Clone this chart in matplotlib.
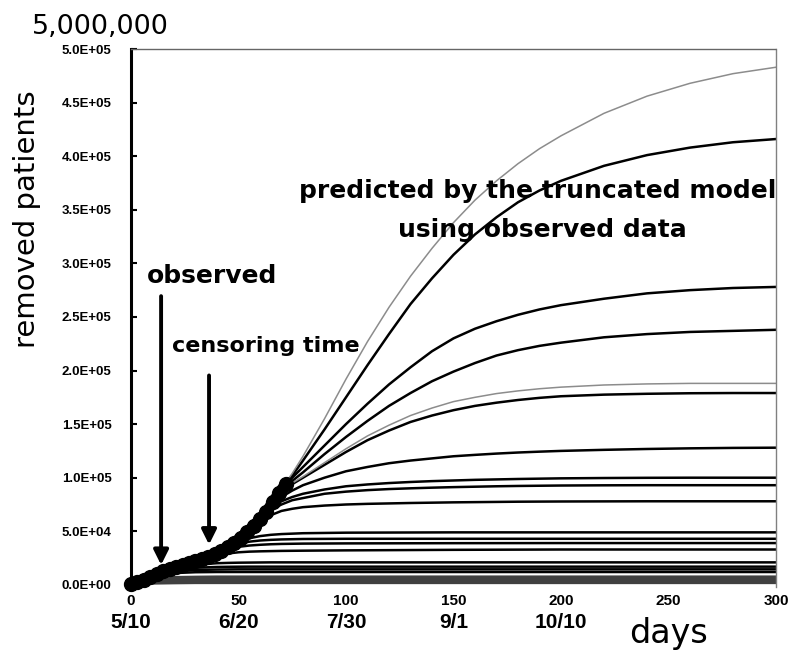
import matplotlib
matplotlib.use("Agg")
import matplotlib.pyplot as plt

# observed removed patients (every 3 days)
obs_days = [0, 3, 6, 9, 12, 15, 18, 21, 24, 27, 30, 33, 36, 39, 42, 45, 48,
            51, 54, 57, 60, 63, 66, 69, 72]
obs_vals = [1000, 3000, 5000, 7500, 10000, 12500, 14500, 16500, 18500, 20500,
            22000, 24000, 26000, 28500, 31500, 35000, 39000, 44000, 49000,
            55000, 61000, 68000, 77000, 86000, 94000]

# predicted curves, large ones
days_grid = [0, 10, 20, 30, 40, 50, 55, 60, 65, 70, 75, 80, 90, 100, 110, 120,
             130, 140, 150, 160, 170, 180, 190, 200, 220, 240, 260, 280, 300]
pred_a = [1000, 8000, 15500, 22000, 29500, 41000, 49500, 61000, 74000, 90000,
          104000, 120000, 155000, 192000, 227000, 259000, 288000, 314000,
          338000, 359000, 377000, 393000, 407000, 419000, 440000, 456000,
          468000, 477000, 483000]
pred_b = [1000, 8000, 15500, 22000, 29500, 41000, 49500, 61000, 73000, 89000,
          102000, 116000, 145000, 175000, 205000, 234000, 262000, 286000,
          308000, 327000, 343000, 357000, 368000, 377000, 391000, 401000,
          408000, 413000, 416000]
pred_c = [1000, 8000, 15500, 22000, 29500, 41000, 49500, 61000, 73000, 89000,
          100000, 110000, 130000, 150000, 169000, 187000, 203000, 218000,
          230000, 239000, 246000, 252000, 257000, 261000, 267000, 272000,
          275000, 277000, 278000]
pred_d = [1000, 8000, 15500, 22000, 29500, 41000, 49500, 61000, 73000, 88000,
          97000, 105000, 122000, 138000, 153000, 167000, 179000, 190000,
          199000, 207000, 214000, 219000, 223000, 226000, 231000, 234000,
          236000, 237000, 238000]
pred_e = [1000, 8000, 15500, 22000, 29500, 41000, 49500, 61000, 73000, 88000,
          94000, 100000, 112000, 124000, 135000, 144000, 152000, 158000,
          163000, 167000, 170000, 172500, 174500, 176000, 177500, 178300,
          178800, 179000, 179000]
pred_e2 = [1000, 8000, 15500, 22000, 29500, 41000, 49500, 61000, 73000, 88000,
           95000, 101000, 114000, 127000, 139000, 149000, 158000, 165000,
           171000, 175000, 178500, 181000, 183000, 184500, 186500, 187500,
           188000, 188000, 188000]
pred_f = [1000, 8000, 15500, 22000, 29500, 41000, 49500, 61000, 73000, 82000,
          88000, 93000, 100000, 106000, 110000, 113500, 116000, 118000,
          120000, 121300, 122500, 123500, 124300, 125000, 126000, 126800,
          127400, 127800, 128000]
pred_g = [1000, 8000, 15500, 22000, 29500, 41000, 49500, 61000, 72000, 78000,
          82000, 85000, 89000, 92000, 93700, 95000, 96000, 96800, 97400,
          98000, 98400, 98800, 99100, 99400, 99700, 99900, 100000, 100000,
          100000]
pred_h = [1000, 8000, 15500, 22000, 29500, 41000, 49500, 60500, 70000, 75000,
          79000, 81000, 85000, 87000, 88400, 89400, 90100, 90700, 91200,
          91600, 92000, 92300, 92500, 92700, 92900, 93000, 93000, 93000,
          93000]
pred_i = [1000, 8000, 15500, 22000, 29500, 41000, 49500, 59000, 65000, 69000,
          71000, 72500, 74000, 75000, 75600, 76000, 76400, 76700, 77000,
          77200, 77400, 77600, 77700, 77800, 77900, 78000, 78000, 78000,
          78000]

# predicted curves, small ones
days_low = [0, 10, 20, 30, 40, 45, 50, 55, 60, 65, 70, 80, 100, 150, 200, 300]
pred_j = [1000, 8000, 15500, 22000, 29500, 35000, 40000, 43500, 45500, 46700,
          47400, 48200, 48700, 49000, 49000, 49000]
pred_k = [1000, 8000, 15500, 22000, 29500, 35000, 38500, 40300, 41400, 42000,
          42400, 42800, 43000, 43000, 43000, 43000]
pred_k2 = [1000, 8000, 15500, 22000, 29000, 33500, 35500, 36700, 37400, 37900,
           38200, 38500, 38700, 38900, 39000, 39000]
pred_l = [1000, 8000, 15500, 21500, 27000, 29300, 30400, 31000, 31300, 31500,
          31700, 31900, 32200, 32700, 33000, 33000]
pred_m = [1000, 8000, 15000, 18800, 20200, 20500, 20700, 20800, 20900, 21000,
          21000, 21000, 21000, 21000, 21000, 21000]
pred_m2 = [1000, 8000, 14000, 16000, 16700, 16850, 16950, 17000, 17000, 17000,
           17000, 17000, 17000, 17000, 17000, 17000]
pred_m3 = [1000, 8000, 12500, 13900, 14300, 14400, 14500, 14500, 14500, 14500,
           14500, 14500, 14500, 14500, 14500, 14500]
pred_m4 = [1000, 7500, 11000, 11800, 12000, 12000, 12000, 12000, 12000, 12000,
           12000, 12000, 12000, 12000, 12000, 12000]
pred_n = [1000, 5500, 6500, 6800, 7000, 7000, 7000, 7000, 7000, 7000, 7000,
          7000, 7000, 7000, 7000, 7000]
pred_o = [1000, 3500, 4200, 4500, 4500, 4500, 4500, 4500, 4500, 4500, 4500,
          4500, 4500, 4500, 4500, 4500]
pred_p = [1000, 2000, 2300, 2500, 2500, 2500, 2500, 2500, 2500, 2500, 2500,
          2500, 2500, 2500, 2500, 2500]

x_ticks = [0, 50, 100, 150, 200, 250, 300]
date_ticks = [0, 50, 100, 150, 200]
date_labels = ["5/10", "6/20", "7/30", "9/1", "10/10"]
y_ticks = [0, 50000, 100000, 150000, 200000, 250000, 300000, 350000, 400000,
           450000, 500000]
y_labels = ["0.0E+00", "5.0E+04", "1.0E+05", "1.5E+05", "2.0E+05", "2.5E+05",
            "3.0E+05", "3.5E+05", "4.0E+05", "4.5E+05", "5.0E+05"]

tick_font = ["Liberation Sans", "DejaVu Sans"]

fig = plt.figure(figsize=(7.92, 6.5), dpi=100)
ax = fig.add_axes([0.1654, 0.0969, 0.8144, 0.8277])

# low curves (textured band at the bottom)
for vals in [pred_n, pred_o, pred_p]:
    ax.plot(days_low, vals, color="0.25", lw=2.8, solid_capstyle="butt")
for vals in [pred_j, pred_k, pred_k2, pred_l, pred_m, pred_m2, pred_m3, pred_m4]:
    ax.plot(days_low, vals, color="black", lw=1.8)

for vals in [pred_b, pred_c, pred_d, pred_e, pred_f, pred_g, pred_h, pred_i]:
    ax.plot(days_grid, vals, color="black", lw=1.8)
for vals in [pred_a, pred_e2]:
    ax.plot(days_grid, vals, color="0.55", lw=1.1)

# observed data: thick dotted band
ax.plot(obs_days, obs_vals, color="black", lw=8, solid_capstyle="round",
        clip_on=False, zorder=5)
ax.plot(obs_days, obs_vals, "o", color="black", markersize=10, clip_on=False,
        zorder=5)

ax.set_xlim(0, 300)
ax.set_ylim(-2000, 500000)

ax.set_yticks(y_ticks)
ax.set_yticklabels(y_labels, fontfamily=tick_font, fontweight="bold",
                   fontsize=9.5)
ax.tick_params(axis="y", direction="in", length=4, width=1.5, pad=14)
ax.set_xticks(x_ticks)
ax.set_xticklabels([str(t) for t in x_ticks], fontfamily=tick_font,
                   fontweight="bold", fontsize=11)
ax.tick_params(axis="x", length=0, pad=5)

for d, lab in zip(date_ticks, date_labels):
    ax.text(d, -0.066, lab, transform=ax.get_xaxis_transform(), ha="center",
            va="center", fontfamily=tick_font, fontweight="bold", fontsize=15)
ax.text(250, -0.086, "days", transform=ax.get_xaxis_transform(), ha="center",
        va="center", fontsize=24)

ax.spines["bottom"].set_visible(False)
ax.spines["left"].set_linewidth(2.2)
ax.spines["top"].set_color("0.4")
ax.spines["top"].set_linestyle((0, (2, 1)))
ax.spines["top"].set_linewidth(1.0)
ax.spines["right"].set_color("0.5")
ax.spines["right"].set_linewidth(1.0)

# annotations
ax.annotate("", xy=(14, 16000), xytext=(14, 272000),
            arrowprops=dict(arrowstyle="-|>", color="black", lw=2.8,
                            mutation_scale=22))
ax.annotate("", xy=(36.3, 35000), xytext=(36.3, 198000),
            arrowprops=dict(arrowstyle="-|>", color="black", lw=2.8,
                            mutation_scale=22))
ax.text(7.4, 282000, "observed", fontsize=18, fontweight="bold",
        va="baseline")
ax.text(19, 217000, "censoring time", fontsize=16, fontweight="bold",
        va="baseline")
ax.text(300, 361000, "predicted by the truncated model", fontsize=18,
        fontweight="bold", ha="right", va="baseline")
ax.text(124, 325000, "using observed data", fontsize=18, fontweight="bold",
        va="baseline")

fig.text(0.040, 0.958, "5,000,000", fontsize=19.5, va="center")
fig.text(0.034, 0.663, "removed patients", fontsize=21, rotation=90,
         ha="center", va="center")

fig.savefig("out.png", dpi=100)
